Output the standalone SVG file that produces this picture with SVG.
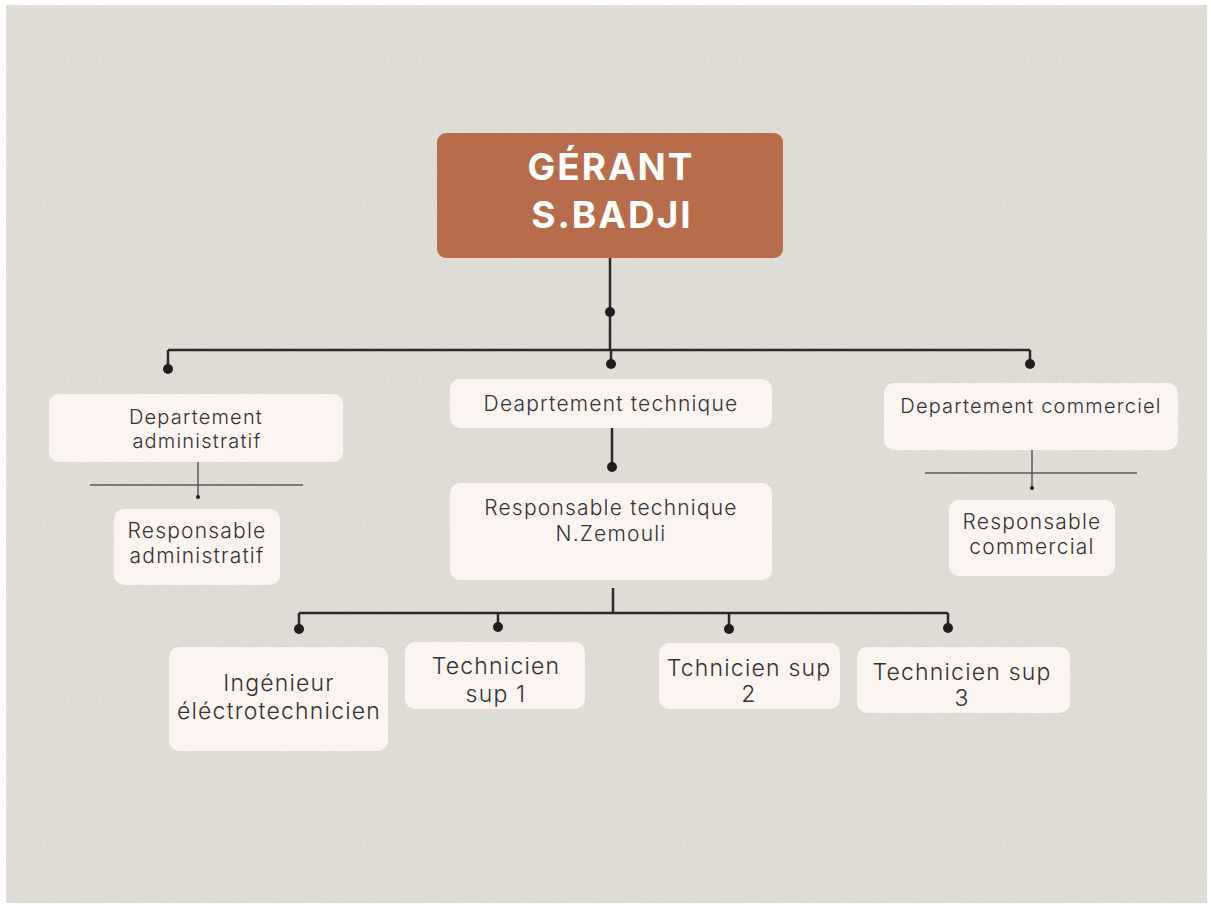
<svg xmlns="http://www.w3.org/2000/svg" width="1211" height="908" viewBox="0 0 1211 908">
<defs>
<filter id="grain" x="0" y="0" width="100%" height="100%">
<feTurbulence type="fractalNoise" baseFrequency="0.8" numOctaves="2" seed="3" result="n"/>
<feColorMatrix type="matrix" values="0 0 0 0 0.97  0 0 0 0 0.96  0 0 0 0 0.94  0 0 0 0.5 0" in="n" result="c"/>
<feComposite in="c" in2="SourceGraphic" operator="in"/>
</filter>
</defs>
<style>
.box{fill:#fcf4f0;}
.t{font-family:Inter,"Noto Sans","Liberation Sans",sans-serif;font-weight:300;fill:#333333;text-anchor:middle;letter-spacing:1.2px;}
.ln{stroke:#2a2a2a;stroke-width:2.5;fill:none;}
.thin{stroke:#5a5a5a;stroke-width:1.5;fill:none;}
.dot{fill:#1e1e1e;}
.g{font-family:Inter,"Noto Sans","Liberation Sans",sans-serif;font-weight:700;font-size:37px;fill:#ffffff;text-anchor:middle;letter-spacing:2px;}
</style>
<rect width="1211" height="908" fill="#ffffff"/>
<rect x="6" y="5" width="1201" height="898" fill="#d6d2ca"/>
<rect x="6" y="5" width="1201" height="898" fill="#d6d2ca" filter="url(#grain)"/>

<g id="connectors">
<path class="ln" d="M610 258 V350 M168 350 H1030 M168 350 V368 M611 350 V362 M1030 350 V363"/>
<circle class="dot" cx="610" cy="312" r="5"/>
<circle class="dot" cx="168" cy="369" r="5"/>
<circle class="dot" cx="611" cy="364" r="5"/>
<circle class="dot" cx="1030" cy="364" r="5"/>
<path class="ln" d="M612 428 V466"/>
<circle class="dot" cx="612" cy="467" r="5"/>
<path class="thin" d="M90 485 H303 M198 462 V496"/>
<circle class="dot" cx="198" cy="497" r="2"/>
<path class="thin" d="M925 473 H1137 M1032 450 V487"/>
<circle class="dot" cx="1032" cy="488" r="2"/>
<path class="ln" d="M613 588 V613 M299 613 H948 M299 613 V628 M498 613 V626 M729 613 V628 M948 613 V627"/>
<circle class="dot" cx="299" cy="629" r="5"/>
<circle class="dot" cx="498" cy="627" r="5"/>
<circle class="dot" cx="729" cy="629" r="5"/>
<circle class="dot" cx="948" cy="628" r="5"/>
</g>

<g id="gerant">
<rect x="437" y="133" width="346" height="125" rx="9" fill="#b76d4b"/>
<text class="g" x="611" y="180">GÉRANT</text>
<text class="g" x="612" y="228">S.BADJI</text>
</g>

<g id="dept-admin">
<rect class="box" x="49" y="394" width="294" height="68" rx="10"/>
<text class="t" x="196" y="424" font-size="20">Departement</text>
<text class="t" x="197" y="448" font-size="20">administratif</text>
</g>

<g id="resp-admin">
<rect class="box" x="114" y="509" width="166" height="76" rx="10"/>
<text class="t" x="197" y="538" font-size="21">Responsable</text>
<text class="t" x="197" y="563" font-size="21">administratif</text>
</g>

<g id="dept-tech">
<rect class="box" x="450" y="379" width="322" height="49" rx="10"/>
<text class="t" x="611" y="411" font-size="21">Deaprtement technique</text>
</g>

<g id="resp-tech">
<rect class="box" x="450" y="483" width="322" height="97" rx="10"/>
<text class="t" x="611" y="515" font-size="21">Responsable technique</text>
<text class="t" x="611" y="541" font-size="21">N.Zemouli</text>
</g>

<g id="dept-com">
<rect class="box" x="884" y="383" width="294" height="67" rx="10"/>
<text class="t" x="1031" y="413" font-size="20">Departement commerciel</text>
</g>

<g id="resp-com">
<rect class="box" x="949" y="500" width="166" height="76" rx="10"/>
<text class="t" x="1032" y="529" font-size="21">Responsable</text>
<text class="t" x="1032" y="554" font-size="21">commercial</text>
</g>

<g id="ingenieur">
<rect class="box" x="169" y="647" width="219" height="104" rx="10"/>
<text class="t" x="279" y="691" font-size="23">Ingénieur</text>
<text class="t" x="279" y="719" font-size="23">éléctrotechnicien</text>
</g>

<g id="tech1">
<rect class="box" x="405" y="642" width="180" height="67" rx="10"/>
<text class="t" x="496" y="674" font-size="23">Technicien</text>
<text class="t" x="496" y="702" font-size="23">sup 1</text>
</g>

<g id="tech2">
<rect class="box" x="659" y="643" width="181" height="66" rx="10"/>
<text class="t" x="749" y="676" font-size="23">Tchnicien sup</text>
<text class="t" x="749" y="702" font-size="23">2</text>
</g>

<g id="tech3">
<rect class="box" x="857" y="647" width="213" height="66" rx="10"/>
<text class="t" x="962" y="680" font-size="23">Technicien sup</text>
<text class="t" x="962" y="706" font-size="23">3</text>
</g>
</svg>
